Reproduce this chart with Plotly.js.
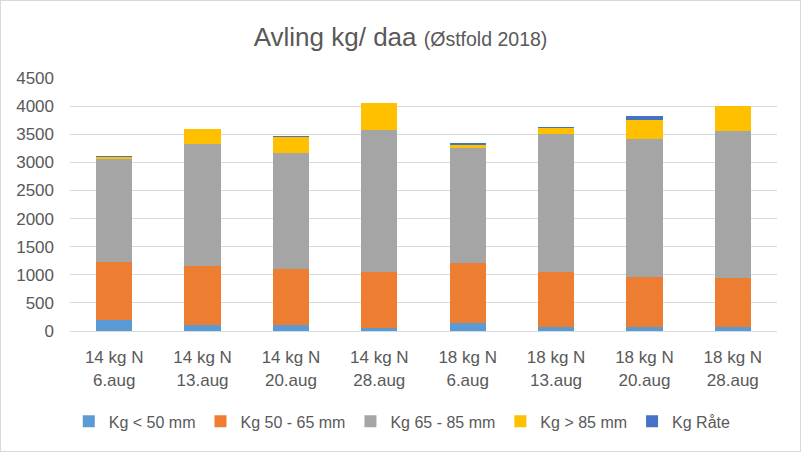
<!DOCTYPE html>
<html><head><meta charset="utf-8">
<script src="https://cdn.plot.ly/plotly-3.0.1.min.js"></script>
<style>html,body{margin:0;padding:0;background:#fff}#c{width:799px;height:450px;border:1px solid #D9D9D9}</style>
</head><body><div id="c"></div>
<script>
const categories = ["14 kg N<br>6.aug","14 kg N<br>13.aug","14 kg N<br>20.aug","14 kg N<br>28.aug","18 kg N<br>6.aug","18 kg N<br>13.aug","18 kg N<br>20.aug","18 kg N<br>28.aug"];
const seriesNames = ["Kg < 50 mm","Kg 50 - 65 mm","Kg 65 - 85 mm","Kg > 85 mm","Kg Råte"];
const under50 = [204,103,100,57,138,67,67,67];
const mm50_65 = [1023,1046,1000,998,1064,976,900,870];
const mm65_85 = [1826,2175,2062,2512,2051,2464,2447,2619];
const over85 = [40,263,284,484,54,106,342,449];
const raate = [18,10,15,5,35,13,66,0];
const yTicks = [0,500,1000,1500,2000,2500,3000,3500,4000,4500];
const colors = ["#5B9BD5","#ED7D31","#A5A5A5","#FFC000","#4472C4"];
const values = [under50, mm50_65, mm65_85, over85, raate];
const font = "Liberation Sans, Arial, sans-serif";
const traces = values.map((v,i)=>({type:"bar",name:seriesNames[i],x:categories,y:v,marker:{color:colors[i]}}));
const layout = {
  width:799,height:450,barmode:"stack",bargap:0.59,
  margin:{l:69,r:23,t:77,b:119.5,autoexpand:false},
  paper_bgcolor:"#fff",plot_bgcolor:"#fff",
  font:{family:font,color:"#595959",size:17},
  title:{text:"Avling kg/ daa <span style='font-size:19.5px'>(Østfold 2018)</span>",x:0.5,xanchor:"center",y:0.92,yanchor:"middle",font:{family:font,size:26,color:"#595959"}},
  xaxis:{type:"category",tickfont:{size:17},showline:true,linecolor:"#D9D9D9",linewidth:1,ticks:"",fixedrange:true,automargin:false,ticklabelstandoff:11},
  yaxis:{range:[0,4500],tickvals:yTicks,ticktext:yTicks.map(String),gridcolor:"#D9D9D9",gridwidth:1,zeroline:false,showline:false,ticks:"",tickfont:{size:17},ticklabelstandoff:15,automargin:false},
  legend:{orientation:"h",x:0.47,xanchor:"center",y:-0.29,yanchor:"top",font:{size:16},itemwidth:30,traceorder:"normal"},
  showlegend:true
};
Plotly.newPlot("c",traces,layout,{displayModeBar:false,staticPlot:true});
</script></body></html>
